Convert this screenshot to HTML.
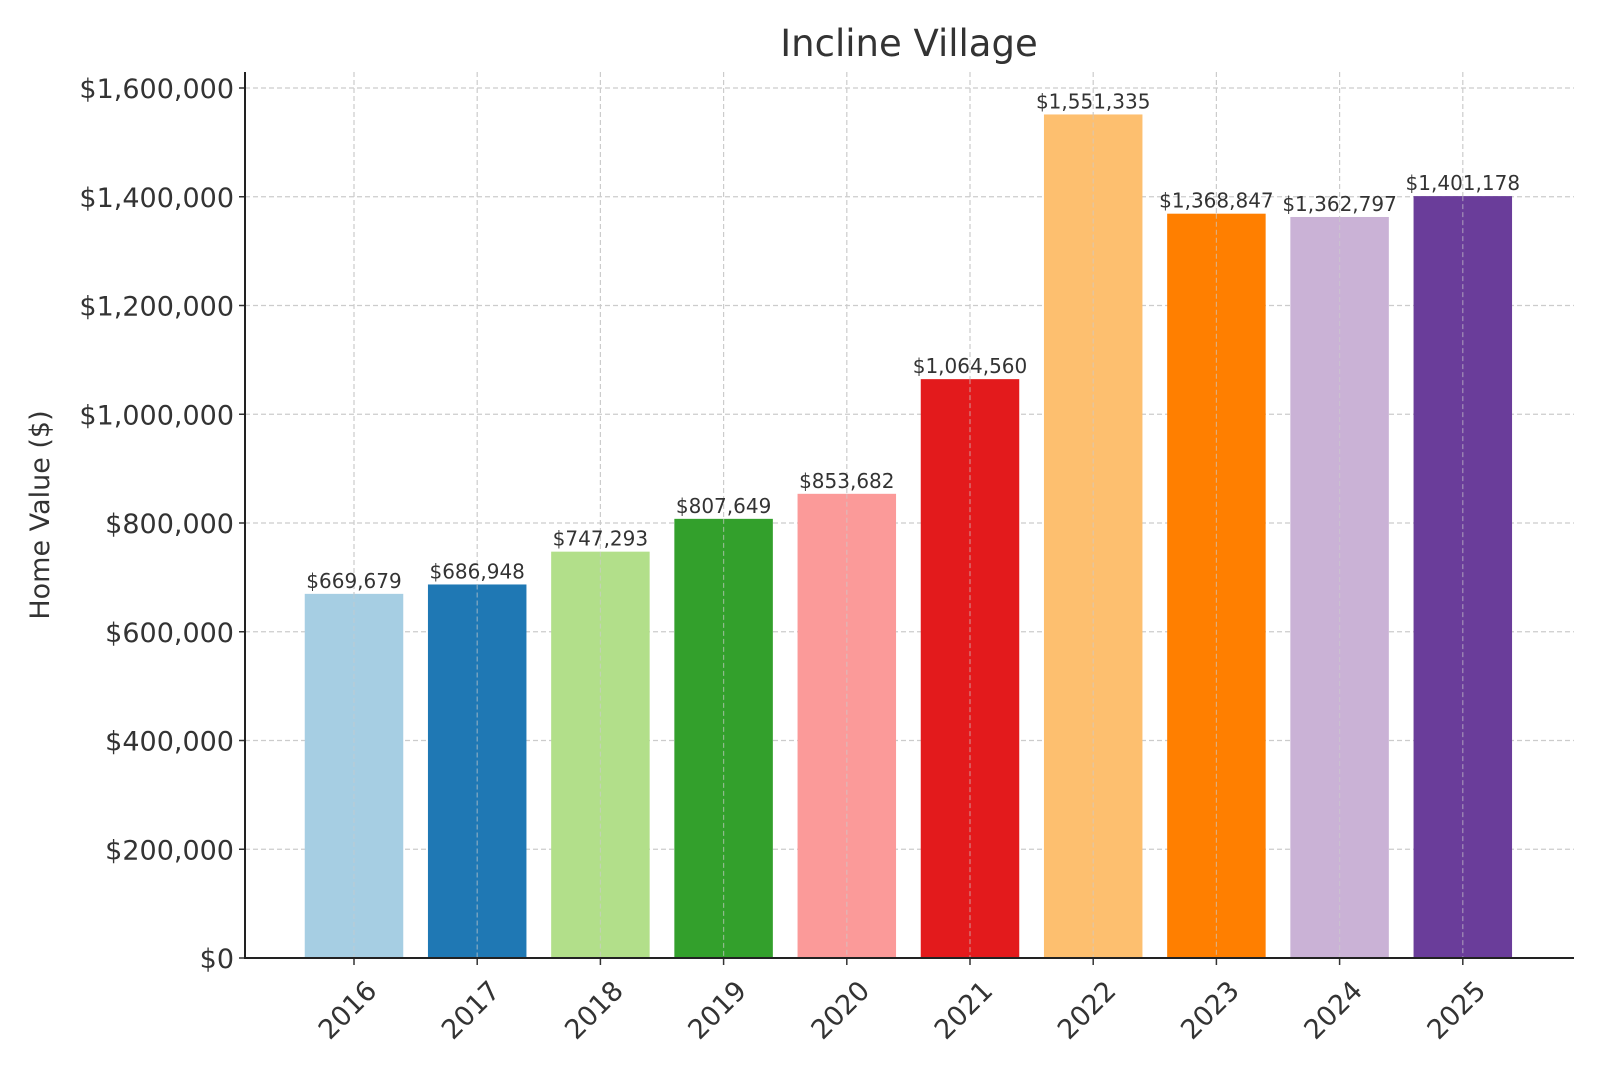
<!DOCTYPE html>
<html><head><meta charset="utf-8"><style>
body{margin:0;background:#fff}
svg text{font-family:"DejaVu Sans","Liberation Sans",sans-serif;fill:#333}
</style></head><body>
<svg id="chart" width="1600" height="1067" viewBox="0 0 1600 1067" xmlns="http://www.w3.org/2000/svg">
<text x="909" y="56" font-size="37" text-anchor="middle">Incline Village</text>
<text transform="translate(49,515) rotate(-90)" font-size="27" text-anchor="middle">Home Value ($)</text>
<g id="grid"></g><g id="bars"></g><g id="labels"></g><g id="axes"></g>
</svg>
<script>
const categories=["2016","2017","2018","2019","2020","2021","2022","2023","2024","2025"];
const values=[669679,686948,747293,807649,853682,1064560,1551335,1368847,1362797,1401178];
const colors=["#a6cee3","#1f78b4","#b2df8a","#33a02c","#fb9a99","#e31a1c","#fdbf6f","#ff7f00","#cab2d6","#6a3d9a"];
const yTicks=[0,200000,400000,600000,800000,1000000,1200000,1400000,1600000];
const NS="http://www.w3.org/2000/svg";
const L=245,R=1574,T=72,B=958;
function y(v){return B-(v/1600000)*(B-88);}
function x(i){return 354+i*123.2;}
const bw=98.5;
function mk(tag,attrs,parent,txt){const e=document.createElementNS(NS,tag);for(const k in attrs)e.setAttribute(k,attrs[k]);if(txt!==undefined)e.textContent=txt;document.getElementById(parent).appendChild(e);return e;}
function fmt(v){return "$"+v.toLocaleString("en-US");}
yTicks.forEach(t=>{
  const g=mk("line",{x1:L,x2:R,y1:y(t),y2:y(t),stroke:"#ccc","stroke-dasharray":"5,3","stroke-width":1.2},"grid");
  
  
  const tk=mk("line",{x1:L-6,x2:L,y1:y(t),y2:y(t),stroke:"#333","stroke-width":1.5},"axes");
  
  
  const lb=mk("text",{x:L-11,y:y(t)+10,"font-size":27,"text-anchor":"end"},"axes",fmt(t));
  
  
});
categories.forEach((c,i)=>{
  const g=mk("line",{x1:x(i),x2:x(i),y1:T,y2:B,stroke:"#ccc","stroke-dasharray":"5,3","stroke-width":1.2},"grid");
  
  
  const r=mk("rect",{x:x(i)-bw/2,y:y(values[i]),width:bw,height:B-y(values[i]),fill:colors[i]},"bars");
  
  
  const gl=mk("line",{x1:x(i),x2:x(i),y1:y(values[i]),y2:B,stroke:"#ccc","stroke-opacity":0.6,"stroke-dasharray":"5,3","stroke-width":1.2},"bars");
  
  
  const vl=mk("text",{x:x(i),y:y(values[i])-6,"font-size":20,"text-anchor":"middle"},"labels",fmt(values[i]));
  
  
  const tk=mk("line",{x1:x(i),x2:x(i),y1:B,y2:B+7,stroke:"#333","stroke-width":1.5},"axes");
  
  
  const xl=mk("text",{transform:`translate(${x(i)+10},${B+20}) rotate(-45)`,"font-size":27,"text-anchor":"end",dy:"0.75em"},"axes",c);
  
  
});
const ax=mk("path",{d:`M${L},${T} V${B} H${R}`,fill:"none",stroke:"#222","stroke-width":2},"axes");


</script>
</body></html>
